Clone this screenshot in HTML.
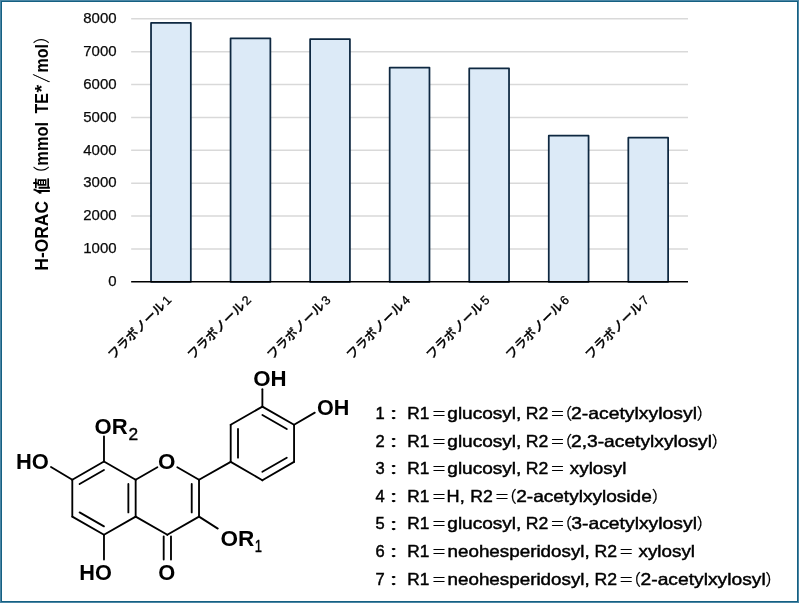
<!DOCTYPE html>
<html lang="ja"><head><meta charset="utf-8"><title>H-ORAC</title>
<style>
html,body{margin:0;padding:0;background:#fff;}
body{width:799px;height:603px;overflow:hidden;position:relative;}
svg{position:absolute;left:0;top:0;display:block;will-change:transform;}
text{font-family:"Liberation Sans", "Noto Sans CJK JP", sans-serif;}
.yl{fill:#0a0a0a;font-kerning:none;stroke:#0a0a0a;stroke-width:0.25px;}
.xl{font-size:12.5px;fill:#000;font-weight:500;stroke:#000;stroke-width:0.3px;}
.yt{font-weight:bold;fill:#000;font-kerning:none;}
.lg{font-size:16.5px;fill:#000;stroke:#000;stroke-width:0.45px;font-kerning:none;}
.at{font-weight:bold;fill:#000;font-kerning:none;}
.sb{fill:#000;font-kerning:none;stroke:#000;stroke-width:0.4px;}
.bond{stroke:#000;stroke-width:1.85;stroke-linecap:round;fill:none;}
</style></head><body>
<svg width="799" height="603" viewBox="0 0 799 603">
<rect x="0" y="0" width="799" height="603" fill="#ffffff"/>
<rect x="0.5" y="0.5" width="798" height="602" fill="none" stroke="#4a86a5" stroke-width="1"/>
<rect x="1.5" y="1.5" width="796" height="600" fill="none" stroke="#156082" stroke-width="1"/>
<g stroke="#d9d9d9" stroke-width="1.5">
<line x1="131.15" y1="18.80" x2="688.00" y2="18.80"/>
<line x1="131.15" y1="51.67" x2="688.00" y2="51.67"/>
<line x1="131.15" y1="84.55" x2="688.00" y2="84.55"/>
<line x1="131.15" y1="117.42" x2="688.00" y2="117.42"/>
<line x1="131.15" y1="150.30" x2="688.00" y2="150.30"/>
<line x1="131.15" y1="183.18" x2="688.00" y2="183.18"/>
<line x1="131.15" y1="216.05" x2="688.00" y2="216.05"/>
<line x1="131.15" y1="248.93" x2="688.00" y2="248.93"/>
</g>
<g fill="#dceaf7" stroke="#0e2841" stroke-width="1.75" stroke-linejoin="round">
<rect x="151.03" y="22.91" width="39.80" height="258.89"/>
<rect x="230.57" y="38.36" width="39.80" height="243.44"/>
<rect x="310.12" y="39.02" width="39.80" height="242.78"/>
<rect x="389.68" y="67.62" width="39.80" height="214.18"/>
<rect x="469.23" y="68.44" width="39.80" height="213.36"/>
<rect x="548.77" y="135.67" width="39.80" height="146.13"/>
<rect x="628.32" y="137.64" width="39.80" height="144.16"/>
</g>
<line x1="131.15" y1="281.80" x2="688.00" y2="281.80" stroke="#000" stroke-width="1.6"/>
<text class="yl" x="83.25" y="22.65" font-size="15.2" textLength="33.34" lengthAdjust="spacingAndGlyphs">8000</text>
<text class="yl" x="83.25" y="55.61" font-size="15.2" textLength="33.34" lengthAdjust="spacingAndGlyphs">7000</text>
<text class="yl" x="83.25" y="88.57" font-size="15.2" textLength="33.34" lengthAdjust="spacingAndGlyphs">6000</text>
<text class="yl" x="83.25" y="121.54" font-size="15.2" textLength="33.34" lengthAdjust="spacingAndGlyphs">5000</text>
<text class="yl" x="83.25" y="154.50" font-size="15.2" textLength="33.34" lengthAdjust="spacingAndGlyphs">4000</text>
<text class="yl" x="83.25" y="187.46" font-size="15.2" textLength="33.34" lengthAdjust="spacingAndGlyphs">3000</text>
<text class="yl" x="83.25" y="220.43" font-size="15.2" textLength="33.34" lengthAdjust="spacingAndGlyphs">2000</text>
<text class="yl" x="83.25" y="253.39" font-size="15.2" textLength="33.34" lengthAdjust="spacingAndGlyphs">1000</text>
<text class="yl" x="108.25" y="286.35" font-size="15.2" textLength="8.33" lengthAdjust="spacingAndGlyphs">0</text>
<g transform="translate(47.8,269.85) rotate(-90)">
<text class="yt" x="-0.87" y="0.00" font-size="17.9" textLength="69.74" lengthAdjust="spacingAndGlyphs">H-ORAC</text>
<text class="yt" x="75.7" y="0" style="font-size:16.5px">値</text>
<text class="yt" x="87.65" y="0" style="font-size:16.5px;font-weight:normal">（</text>
<text class="yt" x="104.17" y="0.00" font-size="17.9" textLength="43.85" lengthAdjust="spacingAndGlyphs">mmol</text>
<text class="yt" x="156.37" y="0.00" font-size="17.9" textLength="20.40" lengthAdjust="spacingAndGlyphs">TE</text>
<text class="yt" x="177.39" y="0.00" font-size="17.9" textLength="7.68" lengthAdjust="spacingAndGlyphs">*</text>
<text class="yt" transform="translate(187.5,0) scale(0.46,1)" x="0" y="0" style="font-size:17.6px;font-weight:bold;stroke:#000;stroke-width:0.8px">／</text>
<text class="yt" x="197.29" y="0.00" font-size="17.9" textLength="28.49" lengthAdjust="spacingAndGlyphs">mol</text>
<text class="yt" x="225.75" y="0" style="font-size:16.5px;font-weight:normal">）</text>
</g>
<text class="xl" transform="translate(113.18,359.95) rotate(-45)">フラボノール<tspan dx="1.6">1</tspan></text>
<text class="xl" transform="translate(192.72,359.95) rotate(-45)">フラボノール<tspan dx="1.6">2</tspan></text>
<text class="xl" transform="translate(272.27,359.95) rotate(-45)">フラボノール<tspan dx="1.6">3</tspan></text>
<text class="xl" transform="translate(351.83,359.95) rotate(-45)">フラボノール<tspan dx="1.6">4</tspan></text>
<text class="xl" transform="translate(431.38,359.95) rotate(-45)">フラボノール<tspan dx="1.6">5</tspan></text>
<text class="xl" transform="translate(510.92,359.95) rotate(-45)">フラボノール<tspan dx="1.6">6</tspan></text>
<text class="xl" transform="translate(590.47,359.95) rotate(-45)">フラボノール<tspan dx="1.6">7</tspan></text>
<g class="lg">
<text class="lg" x="380" y="418.90" text-anchor="middle">1</text>
<text class="lg" transform="translate(393.75,419.10) scale(1.3,0.8)" x="-8" y="0" style="font-size:16px">：</text>
<text class="lg" x="407.38" y="418.90" font-size="16.5" textLength="22.06" lengthAdjust="spacingAndGlyphs">R1</text>
<text class="lg" x="431.40" y="418.90" style="font-size:15.0px;stroke-width:0.15px">＝</text>
<text class="lg" x="447.30" y="418.90" font-size="16.5" textLength="74.11" lengthAdjust="spacingAndGlyphs">glucosyl,</text>
<text class="lg" x="525.75" y="418.90" font-size="16.5" textLength="22.53" lengthAdjust="spacingAndGlyphs">R2</text>
<text class="lg" x="550.00" y="418.90" style="font-size:15.0px;stroke-width:0.15px">＝</text>
<text class="lg" x="556.31" y="418.90" style="font-size:16.0px;stroke-width:0.15px">（</text>
<text class="lg" x="696.54" y="418.90" style="font-size:16.0px;stroke-width:0.15px">）</text>
<text class="lg" x="571.03" y="418.90" font-size="16.5" textLength="125.97" lengthAdjust="spacingAndGlyphs">2-acetylxylosyl</text>
<text class="lg" x="380" y="446.50" text-anchor="middle">2</text>
<text class="lg" transform="translate(393.75,446.70) scale(1.3,0.8)" x="-8" y="0" style="font-size:16px">：</text>
<text class="lg" x="407.38" y="446.50" font-size="16.5" textLength="22.06" lengthAdjust="spacingAndGlyphs">R1</text>
<text class="lg" x="431.40" y="446.50" style="font-size:15.0px;stroke-width:0.15px">＝</text>
<text class="lg" x="447.30" y="446.50" font-size="16.5" textLength="74.11" lengthAdjust="spacingAndGlyphs">glucosyl,</text>
<text class="lg" x="525.75" y="446.50" font-size="16.5" textLength="22.53" lengthAdjust="spacingAndGlyphs">R2</text>
<text class="lg" x="550.00" y="446.50" style="font-size:15.0px;stroke-width:0.15px">＝</text>
<text class="lg" x="556.31" y="446.50" style="font-size:16.0px;stroke-width:0.15px">（</text>
<text class="lg" x="711.54" y="446.50" style="font-size:16.0px;stroke-width:0.15px">）</text>
<text class="lg" x="571.03" y="446.50" font-size="16.5" textLength="140.95" lengthAdjust="spacingAndGlyphs">2,3-acetylxylosyl</text>
<text class="lg" x="380" y="474.10" text-anchor="middle">3</text>
<text class="lg" transform="translate(393.75,474.30) scale(1.3,0.8)" x="-8" y="0" style="font-size:16px">：</text>
<text class="lg" x="407.38" y="474.10" font-size="16.5" textLength="22.06" lengthAdjust="spacingAndGlyphs">R1</text>
<text class="lg" x="431.40" y="474.10" style="font-size:15.0px;stroke-width:0.15px">＝</text>
<text class="lg" x="447.30" y="474.10" font-size="16.5" textLength="74.11" lengthAdjust="spacingAndGlyphs">glucosyl,</text>
<text class="lg" x="525.75" y="474.10" font-size="16.5" textLength="22.53" lengthAdjust="spacingAndGlyphs">R2</text>
<text class="lg" x="550.00" y="474.10" style="font-size:15.0px;stroke-width:0.15px">＝</text>
<text class="lg" x="569.79" y="474.10" font-size="16.5" textLength="56.57" lengthAdjust="spacingAndGlyphs">xylosyl</text>
<text class="lg" x="380" y="501.70" text-anchor="middle">4</text>
<text class="lg" transform="translate(393.75,501.90) scale(1.3,0.8)" x="-8" y="0" style="font-size:16px">：</text>
<text class="lg" x="407.38" y="501.70" font-size="16.5" textLength="22.06" lengthAdjust="spacingAndGlyphs">R1</text>
<text class="lg" x="431.40" y="501.70" style="font-size:15.0px;stroke-width:0.15px">＝</text>
<text class="lg" x="446.61" y="501.70" font-size="16.5" textLength="18.11" lengthAdjust="spacingAndGlyphs">H,</text>
<text class="lg" x="470.25" y="501.70" font-size="16.5" textLength="22.53" lengthAdjust="spacingAndGlyphs">R2</text>
<text class="lg" x="494.50" y="501.70" style="font-size:15.0px;stroke-width:0.15px">＝</text>
<text class="lg" x="500.81" y="501.70" style="font-size:16.0px;stroke-width:0.15px">（</text>
<text class="lg" x="651.74" y="501.70" style="font-size:16.0px;stroke-width:0.15px">）</text>
<text class="lg" x="516.24" y="501.70" font-size="16.5" textLength="135.50" lengthAdjust="spacingAndGlyphs">2-acetylxyloside</text>
<text class="lg" x="380" y="529.30" text-anchor="middle">5</text>
<text class="lg" transform="translate(393.75,529.50) scale(1.3,0.8)" x="-8" y="0" style="font-size:16px">：</text>
<text class="lg" x="407.38" y="529.30" font-size="16.5" textLength="22.06" lengthAdjust="spacingAndGlyphs">R1</text>
<text class="lg" x="431.40" y="529.30" style="font-size:15.0px;stroke-width:0.15px">＝</text>
<text class="lg" x="447.30" y="529.30" font-size="16.5" textLength="74.11" lengthAdjust="spacingAndGlyphs">glucosyl,</text>
<text class="lg" x="525.75" y="529.30" font-size="16.5" textLength="22.53" lengthAdjust="spacingAndGlyphs">R2</text>
<text class="lg" x="550.00" y="529.30" style="font-size:15.0px;stroke-width:0.15px">＝</text>
<text class="lg" x="556.31" y="529.30" style="font-size:16.0px;stroke-width:0.15px">（</text>
<text class="lg" x="696.54" y="529.30" style="font-size:16.0px;stroke-width:0.15px">）</text>
<text class="lg" x="571.26" y="529.30" font-size="16.5" textLength="125.73" lengthAdjust="spacingAndGlyphs">3-acetylxylosyl</text>
<text class="lg" x="380" y="556.90" text-anchor="middle">6</text>
<text class="lg" transform="translate(393.75,557.10) scale(1.3,0.8)" x="-8" y="0" style="font-size:16px">：</text>
<text class="lg" x="407.38" y="556.90" font-size="16.5" textLength="22.06" lengthAdjust="spacingAndGlyphs">R1</text>
<text class="lg" x="431.40" y="556.90" style="font-size:15.0px;stroke-width:0.15px">＝</text>
<text class="lg" x="447.55" y="556.90" font-size="16.5" textLength="142.14" lengthAdjust="spacingAndGlyphs">neohesperidosyl,</text>
<text class="lg" x="594.45" y="556.90" font-size="16.5" textLength="22.53" lengthAdjust="spacingAndGlyphs">R2</text>
<text class="lg" x="618.70" y="556.90" style="font-size:15.0px;stroke-width:0.15px">＝</text>
<text class="lg" x="638.49" y="556.90" font-size="16.5" textLength="56.57" lengthAdjust="spacingAndGlyphs">xylosyl</text>
<text class="lg" x="380" y="584.50" text-anchor="middle">7</text>
<text class="lg" transform="translate(393.75,584.70) scale(1.3,0.8)" x="-8" y="0" style="font-size:16px">：</text>
<text class="lg" x="407.38" y="584.50" font-size="16.5" textLength="22.06" lengthAdjust="spacingAndGlyphs">R1</text>
<text class="lg" x="431.40" y="584.50" style="font-size:15.0px;stroke-width:0.15px">＝</text>
<text class="lg" x="447.55" y="584.50" font-size="16.5" textLength="142.14" lengthAdjust="spacingAndGlyphs">neohesperidosyl,</text>
<text class="lg" x="594.45" y="584.50" font-size="16.5" textLength="22.53" lengthAdjust="spacingAndGlyphs">R2</text>
<text class="lg" x="618.70" y="584.50" style="font-size:15.0px;stroke-width:0.15px">＝</text>
<text class="lg" x="625.01" y="584.50" style="font-size:16.0px;stroke-width:0.15px">（</text>
<text class="lg" x="765.24" y="584.50" style="font-size:16.0px;stroke-width:0.15px">）</text>
<text class="lg" x="640.53" y="584.50" font-size="16.5" textLength="125.16" lengthAdjust="spacingAndGlyphs">2-acetylxylosyl</text>
</g>
<g class="bond">
<line x1="103.98" y1="461.50" x2="72.30" y2="479.70"/>
<line x1="72.30" y1="479.70" x2="72.30" y2="516.60"/>
<line x1="72.30" y1="516.60" x2="103.98" y2="534.80"/>
<line x1="103.98" y1="534.80" x2="135.66" y2="516.60"/>
<line x1="135.66" y1="516.60" x2="135.66" y2="479.70"/>
<line x1="135.66" y1="479.70" x2="103.98" y2="461.50"/>
<line x1="79.59" y1="483.93" x2="103.96" y2="469.93"/>
<line x1="103.96" y1="526.37" x2="79.59" y2="512.37"/>
<line x1="128.36" y1="483.91" x2="128.36" y2="512.39"/>
<line x1="135.66" y1="479.70" x2="157.37" y2="467.23"/>
<line x1="177.31" y1="467.23" x2="199.02" y2="479.70"/>
<line x1="199.02" y1="479.70" x2="199.02" y2="516.60"/>
<line x1="199.02" y1="516.60" x2="167.34" y2="534.80"/>
<line x1="167.34" y1="534.80" x2="135.66" y2="516.60"/>
<line x1="191.72" y1="483.91" x2="191.72" y2="512.39"/>
<line x1="163.69" y1="536.40" x2="163.69" y2="559.60"/>
<line x1="170.99" y1="536.40" x2="170.99" y2="559.60"/>
<line x1="230.70" y1="461.90" x2="230.70" y2="424.80"/>
<line x1="230.70" y1="424.80" x2="262.38" y2="406.60"/>
<line x1="262.38" y1="406.60" x2="294.06" y2="424.80"/>
<line x1="294.06" y1="424.80" x2="294.06" y2="461.90"/>
<line x1="294.06" y1="461.90" x2="262.38" y2="480.20"/>
<line x1="262.38" y1="480.20" x2="230.70" y2="461.90"/>
<line x1="238.00" y1="457.69" x2="238.00" y2="429.01"/>
<line x1="262.40" y1="415.03" x2="286.77" y2="429.03"/>
<line x1="286.76" y1="457.69" x2="262.38" y2="471.77"/>
<line x1="199.02" y1="479.70" x2="230.70" y2="461.90"/>
<line x1="103.98" y1="461.50" x2="103.98" y2="436.40"/>
<line x1="72.30" y1="479.70" x2="51.00" y2="467.00"/>
<line x1="103.98" y1="534.80" x2="103.98" y2="559.60"/>
<line x1="199.02" y1="516.60" x2="217.80" y2="528.60"/>
<line x1="262.38" y1="406.60" x2="262.38" y2="389.20"/>
<line x1="294.06" y1="424.80" x2="314.80" y2="412.60"/>
</g>
<text class="at" x="16.03" y="469.40" font-size="22.0" textLength="32.89" lengthAdjust="spacingAndGlyphs">HO</text>
<text class="at" x="94.50" y="433.60" font-size="22.0" textLength="33.06" lengthAdjust="spacingAndGlyphs">OR</text>
<text class="sb" x="128.43" y="439.50" font-size="16.5" textLength="9.64" lengthAdjust="spacingAndGlyphs">2</text>
<text class="at" x="79.35" y="579.60" font-size="22.0" textLength="32.56" lengthAdjust="spacingAndGlyphs">HO</text>
<text class="at" x="158.30" y="579.60" font-size="22.0" textLength="17.02" lengthAdjust="spacingAndGlyphs">O</text>
<text class="at" x="158.08" y="469.40" font-size="22.0" textLength="17.46" lengthAdjust="spacingAndGlyphs">O</text>
<text class="at" x="220.48" y="545.80" font-size="22.0" textLength="33.79" lengthAdjust="spacingAndGlyphs">OR</text>
<text class="sb" x="254.71" y="552.20" font-size="16.5" textLength="7.22" lengthAdjust="spacingAndGlyphs">1</text>
<text class="at" x="253.19" y="386.10" font-size="22.0" textLength="33.41" lengthAdjust="spacingAndGlyphs">OH</text>
<text class="at" x="317.02" y="414.50" font-size="22.0" textLength="32.34" lengthAdjust="spacingAndGlyphs">OH</text>
</svg>
</body></html>
